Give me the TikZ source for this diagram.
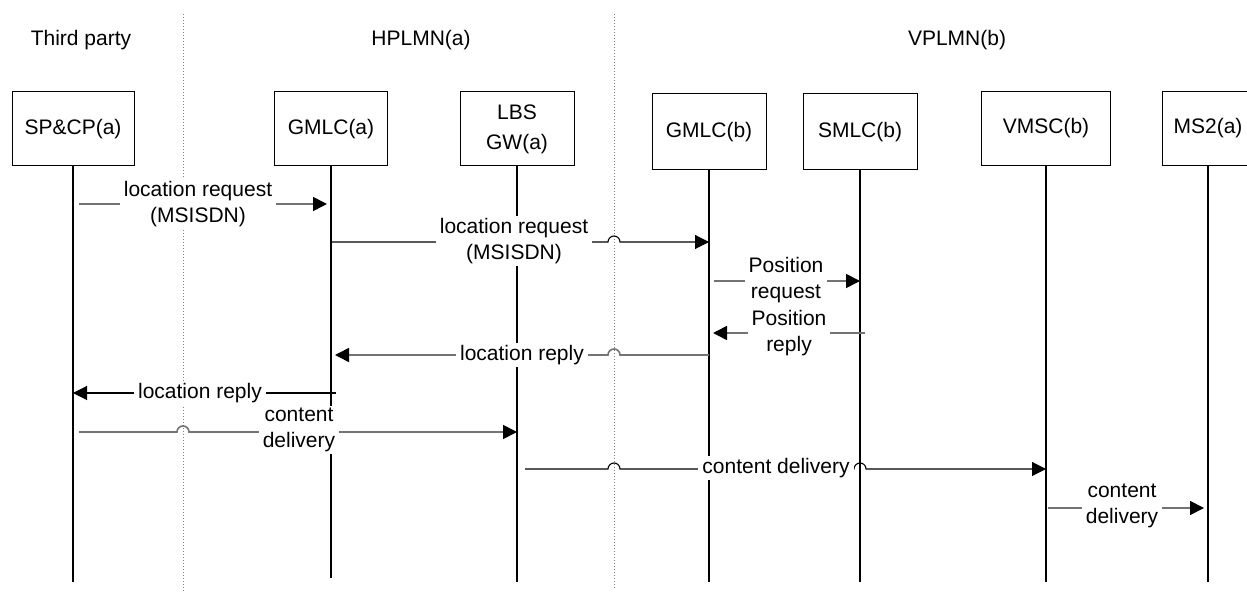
\documentclass[tikz,border=0pt]{standalone}
\usepackage{fontspec}
\setmainfont{Liberation Sans}
\usetikzlibrary{arrows.meta}

\begin{document}
\begin{tikzpicture}[x=0.5pt,y=-0.5pt,
  box/.style={draw=black,line width=0.5pt,fill=white,minimum height=37pt,align=center,inner sep=1pt,font=\fontsize{10.5}{15}\selectfont},
  life/.style={line width=0.65pt},
  divider/.style={draw=gray,densely dotted,line width=0.5pt},
  msg/.style={line width=0.55pt,-{Triangle[length=7pt,width=7pt,black]}},
  greymsg/.style={msg,draw=black!55,line width=0.8pt},
  lbl/.style={fill=white,align=center,inner xsep=2pt,inner ysep=1pt,font=\fontsize{10.5}{13}\selectfont},
  region/.style={font=\fontsize{10.5}{13}\selectfont}]
    \useasboundingbox (0,0) rectangle (1247,592);

    % domains
    \coordinate (d1) at (183,14);
    \coordinate (d2) at (614,14);
    \draw[divider] (d1) -- (d1 |- 0,592);
    \draw[divider] (d2) -- (d2 |- 0,590);
    \node[region] (third) at (81,40) {Third party};
    \node[region] (hplmn) at (421,40) {HPLMN(a)};
    \node[region] (vplmn) at (957,40) {VPLMN(b)};

    % entities
    \node[box,minimum width=61pt] (spcp) at (73,129) {SP\&CP(a)};
    \node[box,minimum width=56.5pt] (gmlca) at (331,129) {GMLC(a)};
    \node[box,minimum width=57pt] (lbsgw) at (517,129) {LBS\\GW(a)};
    \node[box,minimum width=57pt,minimum height=38pt] (gmlcb) at (709,132) {GMLC(b)};
    \node[box,minimum width=57pt,minimum height=38pt] (smlcb) at (860,132) {SMLC(b)};
    \node[box,minimum width=64.5pt] (vmscb) at (1046,128.5) {VMSC(b)};
    \node[box,minimum width=46pt] (ms2a) at (1208,128.5) {MS2(a)};

    % lifelines
    \draw[life] (spcp.south) -- (spcp.south |- 0,582);
    \draw[life] (gmlca.south) -- (gmlca.south |- 0,578);
    \draw[life] (lbsgw.south) -- (lbsgw.south |- 0,582);
    \draw[life] (gmlcb.south) -- (gmlcb.south |- 0,582);
    \draw[life] (smlcb.south) -- (smlcb.south |- 0,582);
    \draw[life] (vmscb.south) -- (vmscb.south |- 0,582);
    \draw[life] (ms2a.south) -- (ms2a.south |- 0,582);

    % messages
    \draw[greymsg,shorten <=3pt,shorten >=2pt] (spcp.south |- 0,204) -- (gmlca.south |- 0,204);
    \draw[msg] (gmlca.south |- 0,242) -- (608,242) arc[start angle=180,end angle=0,radius=3pt] -- (gmlcb.south |- 0,242);
    \draw[greymsg,shorten <=2.5pt] (gmlcb.south |- 0,281) -- (smlcb.south |- 0,281);
    \draw[greymsg,shorten <=-2.5pt,shorten >=2pt] (smlcb.south |- 0,333) -- (gmlcb.south |- 0,333);
    \draw[greymsg,shorten >=2pt] (gmlcb.south |- 0,355) -- (620,355) arc[start angle=0,end angle=180,radius=3pt] -- (gmlca.south |- 0,355);
    \draw[msg,shorten <=-2.5pt] (gmlca.south |- 0,393) -- (spcp.south |- 0,393);
    \draw[greymsg,shorten <=3pt] (spcp.south |- 0,432) -- (177,432) arc[start angle=180,end angle=0,radius=3pt] -- (lbsgw.south |- 0,432);
    \draw[msg,shorten <=4pt] (lbsgw.south |- 0,469) -- (608,469) arc[start angle=180,end angle=0,radius=3pt] -- (854,469) arc[start angle=180,end angle=0,radius=3pt] -- (vmscb.south |- 0,469);
    \draw[greymsg,shorten <=1pt,shorten >=2pt] (vmscb.south |- 0,508) -- (ms2a.south |- 0,508);

    % message labels
    \node[lbl] (req1) at (198,204) {location request\\(MSISDN)};
    \node[lbl] (req2) at (514,241) {location request\\(MSISDN)};
    \node[lbl] (posreq) at (786,280) {Position\\request};
    \node[lbl] (posrep) at (789,333) {Position\\reply};
    \node[lbl] (rep1) at (522,355) {location reply};
    \node[lbl] (rep2) at (200,393) {location reply};
    \node[lbl] (cont1) at (299,430) {content\\delivery};
    \node[lbl] (cont2) at (776,468) {content delivery};
    \node[lbl] (cont3) at (1122,506) {content\\delivery};
\end{tikzpicture}
\end{document}
